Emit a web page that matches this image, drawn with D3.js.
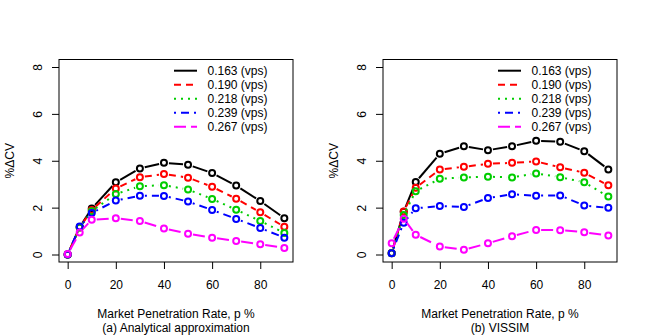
<!DOCTYPE html>
<html>
<head>
<meta charset="utf-8">
<script src="https://cdn.jsdelivr.net/npm/d3@7"></script>
<style>
  body { margin: 0; background: #fff; }
  text { font-family: "Liberation Sans", Arial, sans-serif; font-size: 12px; fill: #000; }
</style>
</head>
<body>
<script>
// x values: market penetration rate (%)
var rates = [0, 5, 10, 20, 30, 40, 50, 60, 70, 80, 90];
var flowLabels = ["0.163 (vps)", "0.190 (vps)", "0.218 (vps)", "0.239 (vps)", "0.267 (vps)"];
var yTicks = [0, 2, 4, 6, 8];
var xTicks = [0, 20, 40, 60, 80];

// (a) analytical approximation
var ana163 = [0, 1.17, 1.96, 3.08, 3.67, 3.91, 3.83, 3.48, 2.94, 2.28, 1.55];
var ana190 = [0, 1.15, 1.90, 2.82, 3.30, 3.43, 3.28, 2.89, 2.38, 1.80, 1.18];
var ana218 = [0, 1.15, 1.85, 2.58, 2.91, 2.96, 2.77, 2.37, 1.91, 1.43, 0.92];
var ana239 = [0, 1.19, 1.77, 2.30, 2.51, 2.50, 2.26, 1.90, 1.52, 1.13, 0.72];
var ana267 = [0.02, 0.94, 1.48, 1.55, 1.43, 1.11, 0.89, 0.72, 0.58, 0.44, 0.28];

// (b) VISSIM
var sim163 = [0.06, 1.82, 3.09, 4.30, 4.62, 4.45, 4.62, 4.85, 4.81, 4.41, 3.63];
var sim190 = [0.05, 1.84, 2.85, 3.63, 3.74, 3.87, 3.91, 3.97, 3.72, 3.49, 2.95];
var sim218 = [0.05, 1.69, 2.70, 3.23, 3.29, 3.32, 3.29, 3.46, 3.30, 3.08, 2.47];
var sim239 = [0.05, 1.36, 1.97, 2.07, 2.03, 2.41, 2.57, 2.51, 2.52, 2.09, 1.99];
var sim267 = [0.48, 1.53, 0.84, 0.34, 0.20, 0.48, 0.78, 1.05, 1.04, 0.95, 0.81];

// line styles (R lty 1..5)
var colors = ["#000000", "#ff0000", "#00cd00", "#0000ff", "#ff00ff"];
var dashes = [null, "7,5", "2,5", "2,5,8,5", "12,5"];

var svg = d3.select("body").append("svg")
  .attr("width", 648).attr("height", 336);

drawPanel(59, [ana163, ana190, ana218, ana239, ana267], "(a) Analytical approximation");
drawPanel(383, [sim163, sim190, sim218, sim239, sim267], "(b) VISSIM");

function drawPanel(left, series, subtitle) {
  var w = 234, top = 59.5, bottom = 262;
  var x = d3.scaleLinear().domain([-3.6, 93.6]).range([left, left + w]);
  var y = d3.scaleLinear().domain([-0.32, 8.32]).range([bottom, top]);
  var g = svg.append("g");

  // box
  g.append("rect")
    .attr("x", left).attr("y", top)
    .attr("width", w).attr("height", bottom - top)
    .attr("fill", "none").attr("stroke", "#000").attr("stroke-width", 1);

  // y axis
  var ya = g.append("g").attr("transform", "translate(" + left + ",0)")
    .call(d3.axisLeft(y).tickValues(yTicks).tickSize(7).tickSizeOuter(0));
  ya.select(".domain").remove();
  ya.selectAll("text")
    .attr("transform", "rotate(-90)")
    .attr("x", 0).attr("y", -21).attr("dy", "0.35em")
    .attr("text-anchor", "middle")
    .style("font-size", "12px").style("font-family", null);

  // x axis
  var xa = g.append("g").attr("transform", "translate(0," + bottom + ")")
    .call(d3.axisBottom(x).tickValues(xTicks).tickSize(7).tickSizeOuter(0));
  xa.select(".domain").remove();
  xa.selectAll("text")
    .attr("y", 22.5).attr("dy", "0.35em")
    .style("font-size", "12px").style("font-family", null);
  g.selectAll(".tick line").attr("stroke", "#000");
  g.selectAll(".tick text").attr("fill", "#000");

  // axis titles
  g.append("text")
    .attr("transform", "translate(" + (left - 49) + "," + ((top + bottom) / 2) + ") rotate(-90)")
    .attr("text-anchor", "middle").attr("dy", "0.35em")
    .text("%\u0394CV");
  g.append("text")
    .attr("x", left + w / 2).attr("y", 317.5)
    .attr("text-anchor", "middle")
    .text("Market Penetration Rate, p %");
  g.append("text")
    .attr("x", left + w / 2).attr("y", 331.5)
    .attr("text-anchor", "middle")
    .text(subtitle);

  // series, R type="b": segments with a gap around each point
  var gap = 5;
  series.forEach(function(vals, k) {
    var pts = vals.map(function(v, i) { return [x(rates[i]), y(v)]; });
    var segs = [];
    for (var i = 0; i < pts.length - 1; i++) {
      var dx = pts[i + 1][0] - pts[i][0], dy = pts[i + 1][1] - pts[i][1];
      var len = Math.sqrt(dx * dx + dy * dy);
      if (len <= 2 * gap) continue;
      var ux = dx / len, uy = dy / len;
      segs.push([pts[i][0] + ux * gap, pts[i][1] + uy * gap,
                 pts[i + 1][0] - ux * gap, pts[i + 1][1] - uy * gap]);
    }
    g.selectAll(null).data(segs).enter().append("line")
      .attr("x1", function(d) { return d[0]; })
      .attr("y1", function(d) { return d[1]; })
      .attr("x2", function(d) { return d[2]; })
      .attr("y2", function(d) { return d[3]; })
      .attr("stroke", colors[k]).attr("stroke-width", 2)
      .attr("stroke-dasharray", dashes[k]);
    g.selectAll(null).data(pts).enter().append("circle")
      .attr("cx", function(d) { return d[0]; })
      .attr("cy", function(d) { return d[1]; })
      .attr("r", 3)
      .attr("fill", "none").attr("stroke", colors[k]).attr("stroke-width", 2);
  });

  // legend (no box)
  flowLabels.forEach(function(lab, k) {
    var ly = 70.7 + 14 * k;
    g.append("line")
      .attr("x1", left + 115).attr("x2", left + 138)
      .attr("y1", ly).attr("y2", ly)
      .attr("stroke", colors[k]).attr("stroke-width", 2)
      .attr("stroke-dasharray", dashes[k]);
    g.append("text")
      .attr("x", left + 148.5).attr("y", ly).attr("dy", "0.35em")
      .text(lab);
  });
}
</script>
</body>
</html>
